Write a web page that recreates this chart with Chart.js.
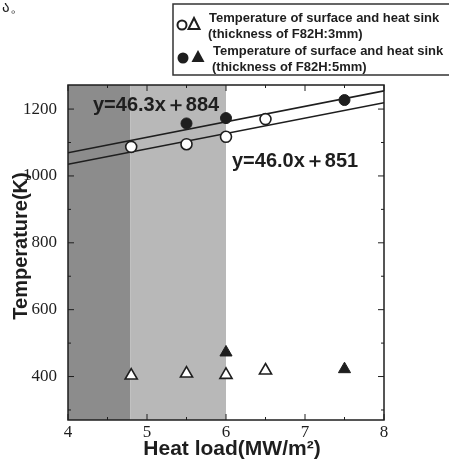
<!DOCTYPE html>
<html><head><meta charset="utf-8">
<script src="https://cdn.jsdelivr.net/npm/chart.js@4.4.1/dist/chart.umd.min.js"></script>
<style>html,body{margin:0;padding:0;background:#fff}#wrap{position:relative;width:449px;height:459px}</style>
</head><body><div id="wrap"><canvas id="c" width="449" height="459"></canvas></div>
<script>
// ---- data ----
const xTicks = [4, 5, 6, 7, 8];
const xMinorTicks = [4.5, 5.5, 6.5, 7.5];
const yTicks = [400, 600, 800, 1000, 1200];
const yMinorTicks = [300, 500, 700, 900, 1100];
const surf3X = [4.8, 5.5, 6.0, 6.5];
const surf3Y = [1087, 1095, 1117, 1170];
const surf5X = [5.5, 6.0, 7.5];
const surf5Y = [1157, 1173, 1227];
const sink3X = [4.8, 5.5, 6.0, 6.5];
const sink3Y = [403, 409, 405, 418];
const sink5X = [6.0, 7.5];
const sink5Y = [472, 422];
const fit5 = {slope: 46.3, icpt: 884, label: 'y=46.3x＋884'};
const fit3 = {slope: 46.0, icpt: 851, label: 'y=46.0x＋851'};
const fitXRange = [4, 8];
const bandDark = [4, 4.79];
const bandLight = [4.79, 6.0];
const legendLines = [
  'Temperature of surface and heat sink', '(thickness of F82H:3mm)',
  'Temperature of surface and heat sink', '(thickness of F82H:5mm)'
];
const xTitle = 'Heat load(MW/m²)';
const yTitle = 'Temperature(K)';

const pts = (xs, ys) => xs.map((x, i) => ({x, y: ys[i]}));
const fitPts = f => fitXRange.map(x => ({x, y: f.slope * x + f.icpt}));

const INK = '#1e1e1e';

const deco = {
  id: 'deco',
  beforeDatasetsDraw(chart) {
    const {ctx, chartArea: a, scales: {x, y}} = chart;
    ctx.save();
    ctx.fillStyle = '#8c8c8c';
    ctx.fillRect(x.getPixelForValue(bandDark[0]), a.top, x.getPixelForValue(bandDark[1]) - x.getPixelForValue(bandDark[0]), a.bottom - a.top);
    ctx.fillStyle = '#b8b8b8';
    ctx.fillRect(x.getPixelForValue(bandLight[0]), a.top, x.getPixelForValue(bandLight[1]) - x.getPixelForValue(bandLight[0]), a.bottom - a.top);
    ctx.restore();
  },
  afterDatasetsDraw(chart) {
    const {ctx, chartArea: a, scales: {x, y}} = chart;
    ctx.save();
    // frame
    ctx.strokeStyle = INK; ctx.lineWidth = 1.5;
    ctx.strokeRect(a.left, a.top, a.right - a.left, a.bottom - a.top);
    // inward ticks
    ctx.lineWidth = 1;
    const tick = (x0, y0, x1, y1) => { ctx.beginPath(); ctx.moveTo(x0, y0); ctx.lineTo(x1, y1); ctx.stroke(); };
    xTicks.forEach(v => { const p = x.getPixelForValue(v); tick(p, a.bottom, p, a.bottom - 6); tick(p, a.top, p, a.top + 6); });
    xMinorTicks.forEach(v => { const p = x.getPixelForValue(v); tick(p, a.bottom, p, a.bottom - 3); tick(p, a.top, p, a.top + 3); });
    yTicks.forEach(v => { const p = y.getPixelForValue(v); tick(a.left, p, a.left + 6, p); tick(a.right, p, a.right - 6, p); });
    yMinorTicks.forEach(v => { const p = y.getPixelForValue(v); tick(a.left, p, a.left + 3, p); tick(a.right, p, a.right - 3, p); });
    // fit equations
    ctx.fillStyle = INK;
    ctx.font = 'bold 20px "Liberation Sans", Arial, sans-serif';
    ctx.textBaseline = 'alphabetic';
    ctx.fillText(fit5.label, 93, 111);
    ctx.fillText(fit3.label, 232, 167);
    // axis titles
    ctx.font = 'bold 21px "Liberation Sans", Arial, sans-serif';
    ctx.textAlign = 'center';
    ctx.fillText(xTitle, 232, 455);
    ctx.save();
    ctx.font = 'bold 20px "Liberation Sans", Arial, sans-serif';
    ctx.translate(27, 246);
    ctx.rotate(-Math.PI / 2);
    ctx.fillText(yTitle, 0, 0);
    ctx.restore();
    // legend box
    ctx.strokeStyle = '#333'; ctx.lineWidth = 1.5;
    ctx.beginPath(); ctx.moveTo(460, 4); ctx.lineTo(173, 4); ctx.lineTo(173, 75); ctx.lineTo(460, 75); ctx.stroke();
    // legend symbols
    ctx.lineWidth = 2; ctx.strokeStyle = INK;
    ctx.beginPath(); ctx.arc(182, 25, 4.5, 0, Math.PI * 2); ctx.fillStyle = '#fff'; ctx.fill(); ctx.stroke();
    ctx.beginPath(); ctx.moveTo(194, 18); ctx.lineTo(199.5, 29); ctx.lineTo(188.5, 29); ctx.closePath(); ctx.stroke();
    ctx.fillStyle = INK;
    ctx.beginPath(); ctx.arc(183, 58, 5.5, 0, Math.PI * 2); ctx.fill();
    ctx.beginPath(); ctx.moveTo(198, 50); ctx.lineTo(204.5, 62); ctx.lineTo(191.5, 62); ctx.closePath(); ctx.fill();
    // legend text
    ctx.textAlign = 'left';
    ctx.font = 'bold 13px "Liberation Sans", Arial, sans-serif';
    ctx.fillText(legendLines[0], 209, 22);
    ctx.fillText(legendLines[1], 208, 38);
    ctx.fillText(legendLines[2], 213, 55);
    ctx.fillText(legendLines[3], 212, 71);
    // stray mark at top-left
    ctx.font = '15px "DejaVu Sans", sans-serif';
    ctx.fillText('ა。', 2, 12);
    ctx.restore();
  }
};

const circleOpen = {pointStyle: 'circle', pointRadius: 5.5, backgroundColor: '#fff', borderColor: INK, borderWidth: 1.6};
const circleFill = {pointStyle: 'circle', pointRadius: 5.5, backgroundColor: INK, borderColor: INK, borderWidth: 1};
const triOpen = {pointStyle: 'triangle', pointRadius: 7, backgroundColor: '#fff', borderColor: INK, borderWidth: 1.6};
const triFill = {pointStyle: 'triangle', pointRadius: 7, backgroundColor: INK, borderColor: INK, borderWidth: 1};

const tickFont = {family: '"Liberation Serif", "Times New Roman", serif', size: 17};

new Chart(document.getElementById('c'), {
  type: 'scatter',
  data: {
    datasets: [
      Object.assign({label: 'surface 3mm', data: pts(surf3X, surf3Y)}, circleOpen),
      Object.assign({label: 'surface 5mm', data: pts(surf5X, surf5Y)}, circleFill),
      Object.assign({label: 'heat sink 3mm', data: pts(sink3X, sink3Y)}, triOpen),
      Object.assign({label: 'heat sink 5mm', data: pts(sink5X, sink5Y)}, triFill),
      {label: 'fit 5mm', data: fitPts(fit5), showLine: true, pointRadius: 0, borderColor: INK, borderWidth: 1.6},
      {label: 'fit 3mm', data: fitPts(fit3), showLine: true, pointRadius: 0, borderColor: INK, borderWidth: 1.6}
    ]
  },
  options: {
    responsive: false,
    animation: false,
    layout: {padding: {top: 85, right: 65, left: 0, bottom: 0}},
    plugins: {legend: {display: false}, tooltip: {enabled: false}},
    scales: {
      x: {
        type: 'linear', min: 4, max: 8,
        grid: {display: false}, border: {display: false},
        afterBuildTicks: s => { s.ticks = xTicks.map(v => ({value: v})); },
        afterFit: s => { s.height = 39; },
        ticks: {padding: -6, color: INK, font: tickFont, callback: v => String(v)}
      },
      y: {
        type: 'linear', min: 270, max: 1272,
        grid: {display: false}, border: {display: false},
        afterBuildTicks: s => { s.ticks = yTicks.map(v => ({value: v})); },
        afterFit: s => { s.width = 68; },
        ticks: {padding: 3, color: INK, font: tickFont, callback: v => String(v)}
      }
    }
  },
  plugins: [deco]
});
</script>
</body></html>
